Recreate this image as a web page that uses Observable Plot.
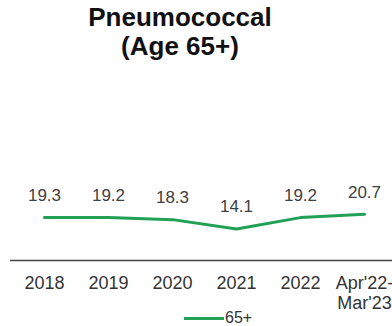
<!DOCTYPE html>
<html>
<head>
<meta charset="utf-8">
<script src="https://cdn.jsdelivr.net/npm/d3@7"></script>
<script src="https://cdn.jsdelivr.net/npm/@observablehq/plot@0.6"></script>
<style>
  html, body { margin: 0; padding: 0; background: #fff; overflow: hidden; width: 392px; height: 326px; }
  body { font-family: "Liberation Sans", Arial, sans-serif; }
  #title { height: 70px; width: 360px; text-align: center; font-weight: bold; font-size: 26px; line-height: 29px; color: #111; padding-top: 3px; box-sizing: border-box; }
  #chart svg { overflow: visible; }
  #legend { position: absolute; top: 309px; left: 184px; display: flex; align-items: center; font-size: 16px; color: #333; }
  #legend .sw { width: 40px; height: 3px; background: #22a055; margin-right: 1px; }
</style>
</head>
<body>
<div id="title">Pneumococcal<br>(Age 65+)</div>
<div id="chart"></div>
<div id="legend"><span class="sw"></span><span>65+</span></div>
<script>
// Pneumococcal vaccination coverage, age 65+
const periods = ["2018", "2019", "2020", "2021", "2022", "Apr'22-\nMar'23"];
const coverage = [19.3, 19.2, 18.3, 14.1, 19.2, 20.7];
const seriesName = "65+";

const rows = periods.map((p, i) => ({period: p, value: coverage[i], series: seriesName}));

const chart = Plot.plot({
  width: 392,
  height: 234,
  marginTop: 56,
  marginBottom: 44,
  marginLeft: 10,
  marginRight: 0,
  style: {fontFamily: "Liberation Sans, Arial, sans-serif", fontSize: "17px", color: "#333", overflow: "visible"},
  x: {type: "point", domain: periods, range: [10, 397], padding: 0.5, axis: null, label: null},
  y: {domain: [0, 60], axis: null},
  marks: [
    Plot.ruleY([0], {stroke: "#444", strokeWidth: 1.5}),
    Plot.line(rows, {x: "period", y: "value", stroke: "#22a055", strokeWidth: 3, curve: "linear"}),
    Plot.text(rows, {x: "period", y: "value", text: d => d.value.toFixed(1), dy: -22, fill: "#404040", fontSize: 17}),
    Plot.axisX({domain: periods, label: null, tickSize: 0, tickPadding: 15, fontSize: 18, color: "#333", lineHeight: 1.08, tickFormat: d => d})
  ]
});
document.getElementById("chart").appendChild(chart);
</script>
</body>
</html>
